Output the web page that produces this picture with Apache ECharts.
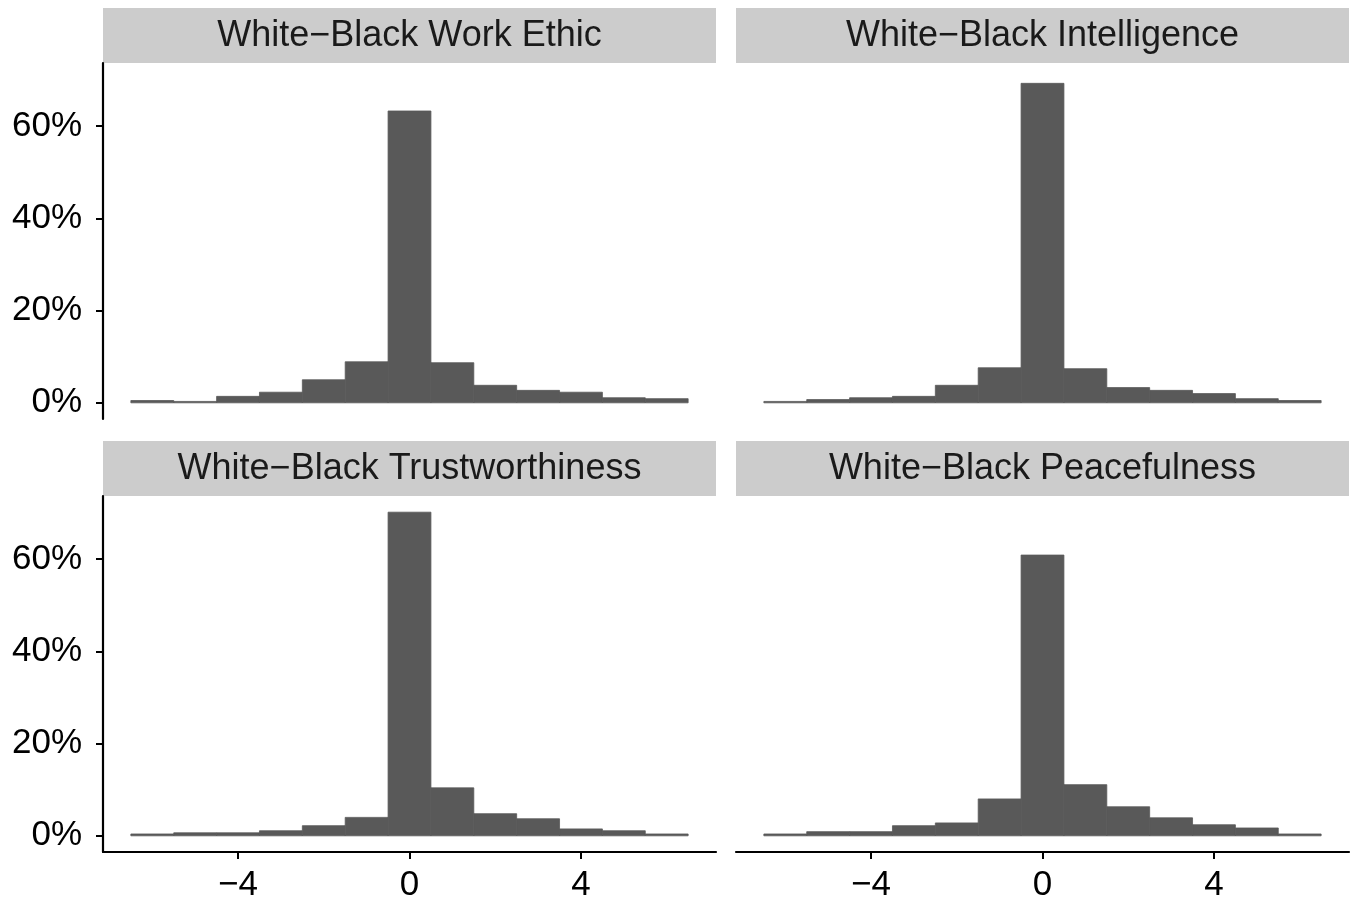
<!DOCTYPE html>
<html>
<head>
<meta charset="utf-8">
<script src="https://cdn.jsdelivr.net/npm/echarts@6/dist/echarts.min.js"></script>
<style>
html,body{margin:0;padding:0;background:#fff;}
#chart{width:1354px;height:905px;}
</style>
</head>
<body>
<div id="chart"></div>
<script>
// Histogram bins (centers, width 1)
const bins = [-6, -5, -4, -3, -2, -1, 0, 1, 2, 3, 4, 5, 6];
const panelTitles = ['White\u2212Black Work Ethic', 'White\u2212Black Intelligence', 'White\u2212Black Trustworthiness', 'White\u2212Black Peacefulness'];
// Percent of respondents per bin
const workEthic       = [0.5, 0.3, 1.4, 2.3, 5.0, 8.9, 63.3, 8.7, 3.8, 2.7, 2.3, 1.1, 0.9];
const intelligence    = [0.3, 0.7, 1.1, 1.4, 3.8, 7.6, 69.3, 7.4, 3.3, 2.7, 2.0, 0.9, 0.5];
const trustworthiness = [0.4, 0.65, 0.65, 1.1, 2.2, 4.0, 70.2, 10.4, 4.8, 3.7, 1.5, 1.1, 0.4];
const peacefulness    = [0.4, 0.9, 0.9, 2.2, 2.8, 8.0, 60.9, 11.1, 6.3, 3.9, 2.4, 1.7, 0.4];
const xTicks = [-4, 0, 4];
const yTicks = [0, 20, 40, 60];

const seriesValues = [workEthic, intelligence, trustworthiness, peacefulness];
const FONT = '"Liberation Sans", Arial, Helvetica, sans-serif';

const panels = [
  {left: 103, top: 63},
  {left: 736, top: 63},
  {left: 103, top: 496},
  {left: 736, top: 496}
];
const PW = 613, PH = 356, STRIP = 55;

const yMax = Math.max(...seriesValues.flat());
const yMin = -0.05 * yMax, yTop = yMax * 1.05;
const xMin = -7.15, xMax = 7.15;

const grids = [], xAxes = [], yAxes = [], series = [], graphics = [];
panels.forEach((p, i) => {
  const isLeft = (i % 2 === 0), isBottom = (i >= 2);
  grids.push({left: p.left, top: p.top, width: PW, height: PH, containLabel: false});
  xAxes.push({
    type: 'value', gridIndex: i, min: xMin, max: xMax,
    splitLine: {show: false},
    axisLine: {show: isBottom, onZero: false, lineStyle: {color: '#000', width: 2.2}},
    axisTick: {show: isBottom, length: 7, lineStyle: {color: '#000', width: 2}, customValues: xTicks},
    axisLabel: {show: isBottom, customValues: xTicks, margin: 16, color: '#000', fontSize: 35, fontFamily: FONT,
      formatter: v => String(v).replace('-', '\u2212')}
  });
  yAxes.push({
    type: 'value', gridIndex: i, min: yMin, max: yTop,
    splitLine: {show: false},
    axisLine: {show: isLeft, onZero: false, lineStyle: {color: '#000', width: 2.2}},
    axisTick: {show: isLeft, length: 7, lineStyle: {color: '#000', width: 2}, customValues: yTicks},
    axisLabel: {show: isLeft, customValues: yTicks, margin: 21, color: '#000', fontSize: 35, fontFamily: FONT,
      formatter: v => v + '%'}
  });
  series.push({
    type: 'custom', xAxisIndex: i, yAxisIndex: i,
    data: bins.map((b, k) => [b, seriesValues[i][k]]),
    renderItem: function (params, api) {
      const x = api.value(0), y = api.value(1);
      const p1 = api.coord([x - 0.5, y]);
      const p2 = api.coord([x + 0.5, 0]);
      return {type: 'rect', shape: {x: p1[0], y: p1[1], width: p2[0] - p1[0], height: p2[1] - p1[1]},
        style: {fill: '#595959', stroke: '#595959', lineWidth: 0.8}};
    },
    silent: true, animation: false
  });
  graphics.push({
    type: 'rect', left: p.left, top: p.top - STRIP, silent: true,
    shape: {width: PW, height: STRIP}, style: {fill: '#cccccc'}
  });
  graphics.push({
    type: 'text', silent: true,
    x: p.left + PW / 2, y: p.top - STRIP / 2 + 1,
    style: {text: panelTitles[i], fill: '#1a1a1a', font: '36px ' + FONT, align: 'center', verticalAlign: 'middle'}
  });
});

const chart = echarts.init(document.getElementById('chart'), null, {renderer: 'canvas'});
chart.setOption({
  animation: false,
  backgroundColor: '#fff',
  grid: grids, xAxis: xAxes, yAxis: yAxes, series: series, graphic: graphics
});
</script>
</body>
</html>
